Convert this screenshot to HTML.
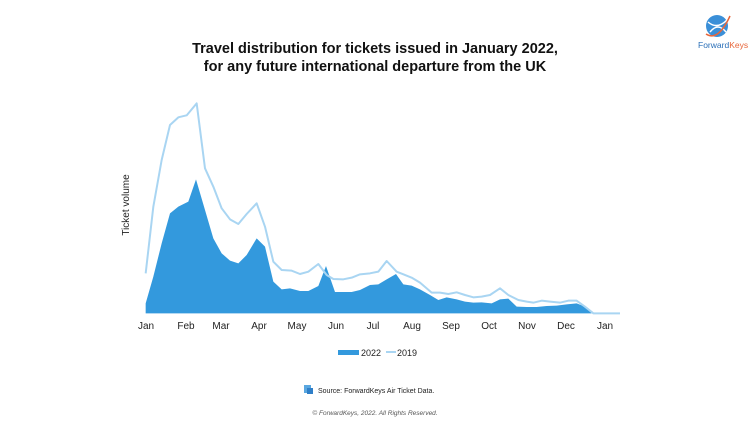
<!DOCTYPE html>
<html><head><meta charset="utf-8"><style>
body{margin:0;background:#fff;width:750px;height:422px;overflow:hidden;font-family:"Liberation Sans",Arial,sans-serif}
</style></head><body>
<svg width="750" height="422" xmlns="http://www.w3.org/2000/svg" font-family="Liberation Sans, Arial, sans-serif">
<rect width="750" height="422" fill="#fff"/>
<text x="375" y="53" text-anchor="middle" font-size="14.5" font-weight="bold" fill="#111">Travel distribution for tickets issued in January 2022,</text>
<text x="375" y="71" text-anchor="middle" font-size="14.5" font-weight="bold" fill="#111">for any future international departure from the UK</text>
<text transform="translate(129 205) rotate(-90)" text-anchor="middle" font-size="10" fill="#222">Ticket volume</text>
<g transform="translate(110 90) scale(0.33333)">
<polygon fill="#3399dd" points="107,670 107,640 130,560 155,460 180,370 205,350 235,335 258,268 285,360 310,445 335,490 360,512 385,520 410,495 440,445 465,470 490,575 515,598 540,595 570,603 595,603 625,588 648,528 675,606 700,606 725,606 750,600 780,585 805,583 830,568 858,552 880,583 905,587 930,598 960,615 985,630 1010,622 1040,628 1065,635 1090,638 1115,637 1145,640 1170,628 1195,626 1220,650 1250,651 1280,651 1310,648 1340,647 1370,643 1400,640 1425,650 1445,670"/>
<polyline fill="none" stroke="#a9d5f2" stroke-width="6" stroke-linejoin="round" points="107,550 130,350 155,210 180,105 205,82 230,76 260,40 285,235 310,290 335,355 360,388 385,402 410,372 440,340 465,410 490,515 515,540 545,542 570,552 595,545 625,522 650,555 670,567 700,568 725,563 750,553 780,550 805,545 830,513 860,545 880,553 905,563 930,578 965,608 990,608 1015,612 1040,607 1065,615 1090,622 1115,620 1140,615 1170,595 1195,615 1225,630 1250,635 1270,638 1295,632 1320,635 1350,638 1375,632 1400,632 1425,650 1450,670 1530,670"/>
</g>
<g font-size="10" fill="#222" text-anchor="middle">
<text x="146" y="329">Jan</text><text x="186" y="329">Feb</text><text x="221" y="329">Mar</text><text x="259" y="329">Apr</text><text x="297" y="329">May</text><text x="336" y="329">Jun</text><text x="373" y="329">Jul</text><text x="412" y="329">Aug</text><text x="451" y="329">Sep</text><text x="489" y="329">Oct</text><text x="527" y="329">Nov</text><text x="566" y="329">Dec</text><text x="605" y="329">Jan</text>
</g>
<rect x="338" y="350" width="21" height="5" fill="#3399dd"/>
<text x="361" y="356" font-size="9" fill="#222">2022</text>
<rect x="386" y="351" width="10" height="2" fill="#a9d5f2"/>
<text x="397" y="356" font-size="9" fill="#222">2019</text>
<rect x="304" y="385" width="7" height="8" fill="#5aa7e0"/>
<rect x="307" y="388" width="6" height="6" fill="#2f7fc8"/>
<text x="318" y="393" font-size="7" fill="#222">Source: ForwardKeys Air Ticket Data.</text>
<text x="375" y="415" text-anchor="middle" font-size="6.5" font-style="italic" fill="#555">© ForwardKeys, 2022. All Rights Reserved.</text>
<circle cx="717" cy="26" r="11" fill="#3a8fd8"/>
<path d="M708 22 Q717 30 727 20 M710 32 Q718 22 726 32" stroke="#fff" stroke-width="1.5" fill="none"/>
<path d="M706 34 Q718 42 730 16" stroke="#e8663a" stroke-width="1.5" fill="none"/>
<text x="698" y="48" font-size="8.5" fill="#2a6fb8">Forward<tspan fill="#e8663a">Keys</tspan></text>
</svg>
</body></html>
